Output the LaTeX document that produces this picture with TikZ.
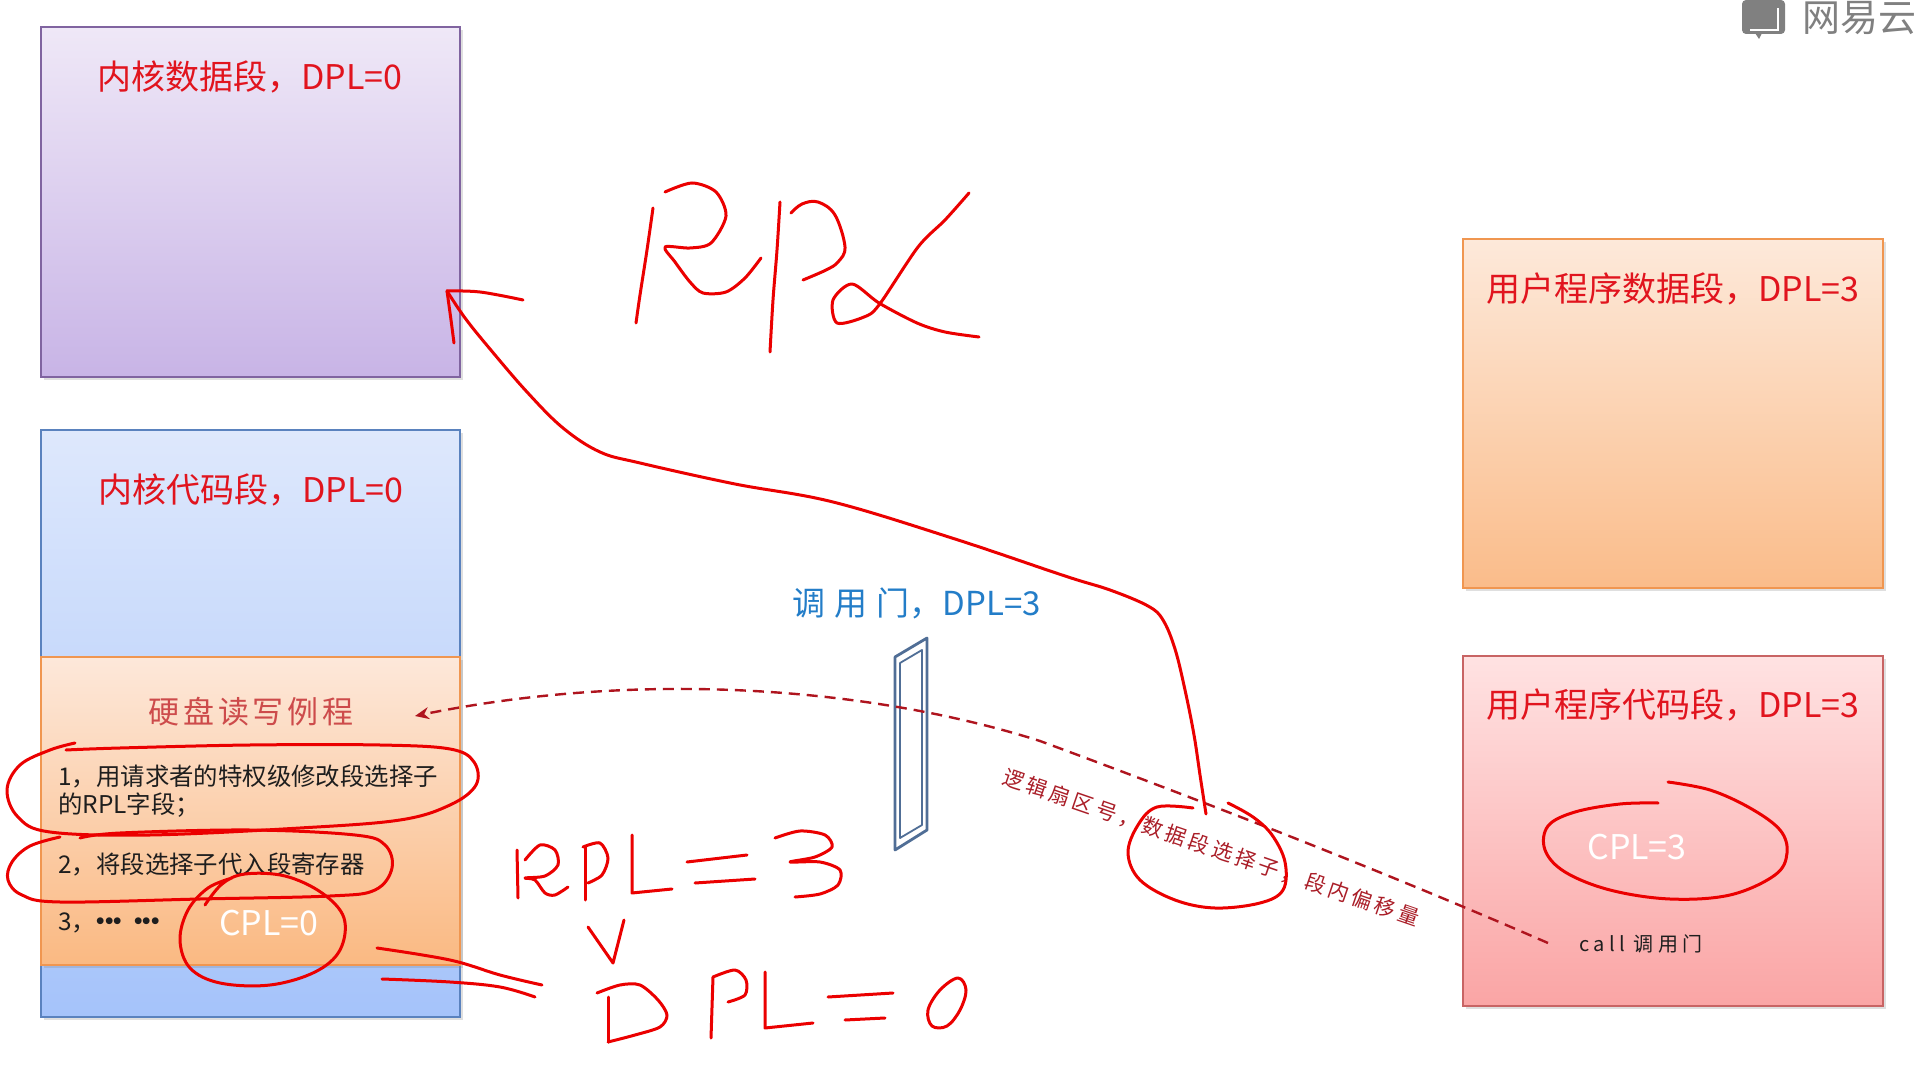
\documentclass[tikz,border=0pt]{standalone}
\usepackage{fontspec}
\setmainfont{Noto Sans CJK SC}
\usetikzlibrary{shadows,arrows.meta}
\definecolor{titlered}{RGB}{225,20,30}
\definecolor{kaired}{RGB}{205,75,75}
\definecolor{labred}{RGB}{170,30,40}
\definecolor{gateblue}{RGB}{35,125,200}
\definecolor{gateline}{RGB}{80,110,150}
\definecolor{inkred}{RGB}{235,0,0}
\definecolor{dashred}{RGB}{175,20,30}
\definecolor{itemblack}{RGB}{30,30,30}
\definecolor{wmgray}{RGB}{128,128,128}
\newcommand\mydot{\makebox[4.3pt]{\textbf{·}}}
\begin{document}
\begin{tikzpicture}[x=0.5pt,y=-0.5pt,
  seg/.style={draw, line width=1pt, inner sep=0pt, minimum width=209.5pt,
    drop shadow={opacity=0.25, shadow xshift=1.5pt, shadow yshift=-1.5pt}},
  title/.style={text=titlered, font=\fontsize{17}{20}\selectfont, inner sep=0pt},
  item/.style={text=itemblack, font=\fontsize{12.2}{14}\selectfont, inner sep=0pt, anchor=west, align=left},
  cpl/.style={text=white, font=\fontsize{17}{20}\selectfont, inner sep=0pt},
  ink/.style={draw=inkred, line width=1.5pt, line cap=round, line join=round},
  dashconn/.style={draw=dashred, line width=1.2pt, dash pattern=on 5.5pt off 3.5pt, -{Stealth[length=7pt,width=6pt]}},
]
\useasboundingbox (0,0) rectangle (1920,1068);
\fill[white] (0,0) rectangle (1920,1068);

% boxes
\node[seg, draw={rgb,255:red,128;green,100;blue,160}, top color={rgb,255:red,239;green,232;blue,247}, bottom color={rgb,255:red,200;green,180;blue,230}, minimum height=175pt] (kd) at (250.5,202) {};
\node[seg, draw={rgb,255:red,90;green,130;blue,190}, top color={rgb,255:red,222;green,232;blue,252}, bottom color={rgb,255:red,165;green,195;blue,250}, minimum height=293.5pt] (kc) at (250.5,723.5) {};
\node[seg, draw={rgb,255:red,240;green,150;blue,80}, top color={rgb,255:red,253;green,232;blue,218}, bottom color={rgb,255:red,250;green,185;blue,130}, minimum height=154pt] (hd) at (250.5,811) {};
\node[seg, draw={rgb,255:red,240;green,150;blue,80}, top color={rgb,255:red,253;green,233;blue,218}, bottom color={rgb,255:red,250;green,188;blue,138}, minimum width=210pt, minimum height=174.5pt] (ud) at (1673,413.5) {};
\node[seg, draw={rgb,255:red,200;green,100;blue,100}, top color={rgb,255:red,255;green,226;blue,226}, bottom color={rgb,255:red,250;green,165;blue,165}, minimum width=210pt, minimum height=175pt] (uc) at (1673,831) {};

% titles
\node[title] (kdt) at (250,77) {内核数据段，DPL=0};
\node[title] (kct) at (251,490) {内核代码段，DPL=0};
\node[title] (udt) at (1673,289) {用户程序数据段，DPL=3};
\node[title] (uct) at (1673,705) {用户程序代码段，DPL=3};
\node[text=kaired, font=\fontsize{15.5}{18}\selectfont\addfontfeature{LetterSpace=12}, inner sep=0pt] (hdt) at (251,712) {硬盘读写例程};

% items
\node[item] (it1) at (58,791) {1，用请求者的特权级修改段选择子\\[0pt]的RPL字段；};
\node[item] (it2) at (58,864) {2，将段选择子代入段寄存器};
\node[item] (it3) at (58,923) {3，\mydot\mydot\mydot\hspace{6pt}\mydot\mydot\mydot};
\node[cpl] (cpl0) at (269,923) {CPL=0};
\node[cpl] (cpl3) at (1637,847) {CPL=3};
\node[text=itemblack, font=\fontsize{10}{12}\selectfont\addfontfeature{LetterSpace=22}, inner sep=0pt] (call) at (1641,944) {call 调用门};

% gate
\draw[gateline, line width=1.4pt, line join=round, fill=white] (895,657) -- (927,638) -- (927,830) -- (895,850) -- cycle;
\draw[gateline, line width=0.9pt, line join=round] (900,663) -- (922,650) -- (922,825) -- (900,838) -- cycle;
\node[text=gateblue, font=\fontsize{16.5}{19}\selectfont, inner sep=0pt] (gatet) at (917,603) {调\hspace{4.5pt}用\hspace{4.5pt}门，DPL=3};

% dashed connector
\coordinate (dstart) at (1548,943);
\coordinate (dmid) at (1040,741);
\coordinate (dend) at (415,716);
\draw[dashconn] (dstart) .. controls (1380,870) and (1200,800) .. (dmid) .. controls (880,690) and (650,668) .. (dend);
\node[text=labred, rotate=-19, font=\fontsize{10.5}{12}\selectfont\addfontfeature{LetterSpace=17}, inner sep=0pt] (lab) at (1211,848) {逻辑扇区号，数据段选择子，段内偏移量};

% handwriting: ellipses
\draw[ink] plot[smooth, tension=0.6] coordinates {(75,743) (50,750) (20,765) (7,790) (18,817) (50,832) (150,835) (300,828) (400,820) (450,805) (476,785) (474,762) (450,749) (380,745) (250,745) (120,748) (66,750)};
\draw[ink] plot[smooth, tension=0.6] coordinates {(60,837) (30,846) (12,862) (8,880) (22,895) (60,902) (200,899) (330,896) (375,890) (392,868) (385,845) (355,835) (250,830) (120,833) (80,838)};
\draw[ink] plot[smooth, tension=0.6] coordinates {(205,905) (222,884) (245,874) (285,876) (322,893) (344,918) (340,950) (315,972) (270,985) (220,983) (190,968) (180,940) (188,910) (208,888) (232,878)};
\draw[ink] plot[smooth, tension=0.6] coordinates {(1658,803) (1620,804) (1575,812) (1548,826) (1545,850) (1565,872) (1610,890) (1670,899) (1730,895) (1775,875) (1787,853) (1780,830) (1750,808) (1710,790) (1668,782)};
\draw[ink] plot[smooth, tension=0.6] coordinates {(1193,808) (1157,807) (1138,825) (1128,853) (1140,880) (1175,900) (1215,908) (1260,903) (1283,890) (1285,862) (1272,835) (1253,817) (1228,803)};

% RPL arrow
\draw[ink] plot[smooth, tension=0.6] coordinates {(1206,814) (1200,775) (1194,735) (1185,690) (1175,649) (1163,620) (1148,606) (1110,590) (1065,576) (955,539) (833,502) (735,484) (640,463) (600,452) (563,428) (527,392) (490,349) (465,318) (447,291)};
\draw[ink] plot[smooth, tension=0.6] coordinates {(447,291) (480,292) (523,300)};
\draw[ink] plot[smooth, tension=0.6] coordinates {(447,291) (451,320) (454,343)};

% RPL (top)
\draw[ink] plot[smooth, tension=0.6] coordinates {(653,208) (647,250) (640,295) (636,323)};
\draw[ink] plot[smooth, tension=0.5] coordinates {(665,192) (692,183) (716,192) (726,216) (711,243) (690,248) (665,247) (675,262) (690,282) (703,293) (726,292) (745,278) (761,258)};
\draw[ink] plot[smooth, tension=0.6] coordinates {(780,202) (777,250) (773,300) (770,352)};
\draw[ink] plot[smooth, tension=0.6] coordinates {(791,213) (802,204) (818,202) (835,215) (845,247) (838,262) (826,270) (803,280)};
\draw[ink] plot[smooth, tension=0.5] coordinates {(969,193) (945,220) (918,247) (879,305) (864,317) (837,323) (833,300) (852,284) (879,303) (917,323) (945,332) (979,337)};

% lines from CPL=0
\draw[ink] plot[smooth, tension=0.6] coordinates {(377,948) (450,960) (500,975) (542,985)};
\draw[ink] plot[smooth, tension=0.6] coordinates {(382,979) (450,982) (500,987) (535,997)};

% RPL=3
\draw[ink] (517,850) -- (518,898);
\draw[ink] plot[smooth, tension=0.5] coordinates {(525,860) (540,845) (555,850) (558,865) (545,876) (525,878) (535,880) (545,893) (555,895) (568,887)};
\draw[ink] (585,847) -- (585,900);
\draw[ink] plot[smooth, tension=0.5] coordinates {(583,847) (600,843) (608,858) (602,875) (588,883)};
\draw[ink] (632,835) -- (632,893) -- (672,889);
\draw[ink] (687,862) -- (747,855);
\draw[ink] (695,883) -- (755,879);
\draw[ink] plot[smooth, tension=0.5] coordinates {(775,838) (800,831) (825,835) (832,847) (815,857) (790,862) (820,862) (840,870) (838,885) (820,894) (795,897)};
% >
\draw[ink] (588,927) -- (613,963) -- (624,920);
% DPL=0
\draw[ink] (608,997) -- (608,1042);
\draw[ink] plot[smooth, tension=0.5] coordinates {(597,993) (620,985) (640,985) (658,1000) (667,1015) (660,1027) (635,1035) (608,1042)};
\draw[ink] (713,977) -- (711,1038);
\draw[ink] plot[smooth, tension=0.5] coordinates {(713,977) (735,970) (746,980) (745,995) (728,1002)};
\draw[ink] (765,972) -- (765,1028) -- (813,1023);
\draw[ink] (828,997) -- (893,993);
\draw[ink] (845,1020) -- (885,1018);
\draw[ink] plot[smooth cycle, tension=0.6] coordinates {(958,978) (940,990) (928,1010) (932,1026) (947,1026) (960,1010) (966,990)};

% watermark
\begin{scope}
\clip (0,0) rectangle (1920,1068);
\fill[wmgray, rounded corners=2pt] (1742,0) rectangle (1785,34);
\fill[wmgray] (1755,33) -- (1762,33) -- (1759,39) -- cycle;
\draw[white, line width=1pt] (1750,30) -- (1778,30) -- (1778,8);
\node[text=wmgray, font=\fontsize{19}{22}\selectfont, inner sep=0pt, anchor=west] (wm) at (1802,18) {网易云};
\end{scope}
\end{tikzpicture}
\end{document}
